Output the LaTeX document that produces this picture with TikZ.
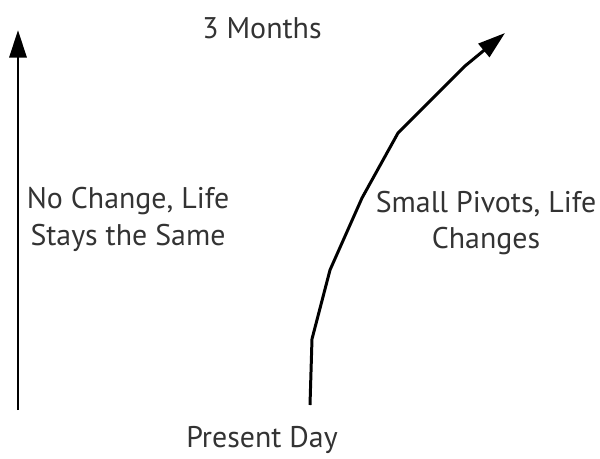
\documentclass[tikz,border=0pt]{standalone}
\usepackage{fontspec}
\setmainfont{PT Sans}
\usetikzlibrary{arrows.meta}

\tikzset{
  path line/.style={line width=1.7pt, line join=round},
  path arrow/.style={path line, -{Triangle[length=0.55cm, width=0.34cm]}},
  caption/.style={text=black!80, font=\fontsize{17}{21}\selectfont, align=center, inner sep=1pt}
}

\begin{document}
\begin{tikzpicture}[x=0.02cm, y=-0.02cm]
  \useasboundingbox (0,0) rectangle (600,458);

  % Draw the straight path on the left
  \coordinate (still start) at (18,410);
  \coordinate (still end) at (18,30);
  \draw[path arrow] (still start) -- (still end);

  % Draw the bending path on the right
  \coordinate (bend0) at (310,405);
  \coordinate (bend1) at (312,339);
  \coordinate (bend2) at (330,270);
  \coordinate (bend3) at (362,198);
  \coordinate (bend4) at (398,133);
  \coordinate (bend5) at (465,66);
  \coordinate (bend6) at (505,33);
  \draw[path arrow] (bend0) -- (bend1) -- (bend2) -- (bend3) -- (bend4) -- (bend5) -- (bend6);

  % Draw the labels
  \node[caption] (months) at (262,28) {3 Months};
  \node[caption] (today) at (262,440) {Present Day};
  \node[caption] (same) at (128,219) {No Change, Life\\Stays the Same};
  \node[caption, fill=white] (pivots) at (486,223) {Small Pivots, Life\\Changes};
\end{tikzpicture}
\end{document}
